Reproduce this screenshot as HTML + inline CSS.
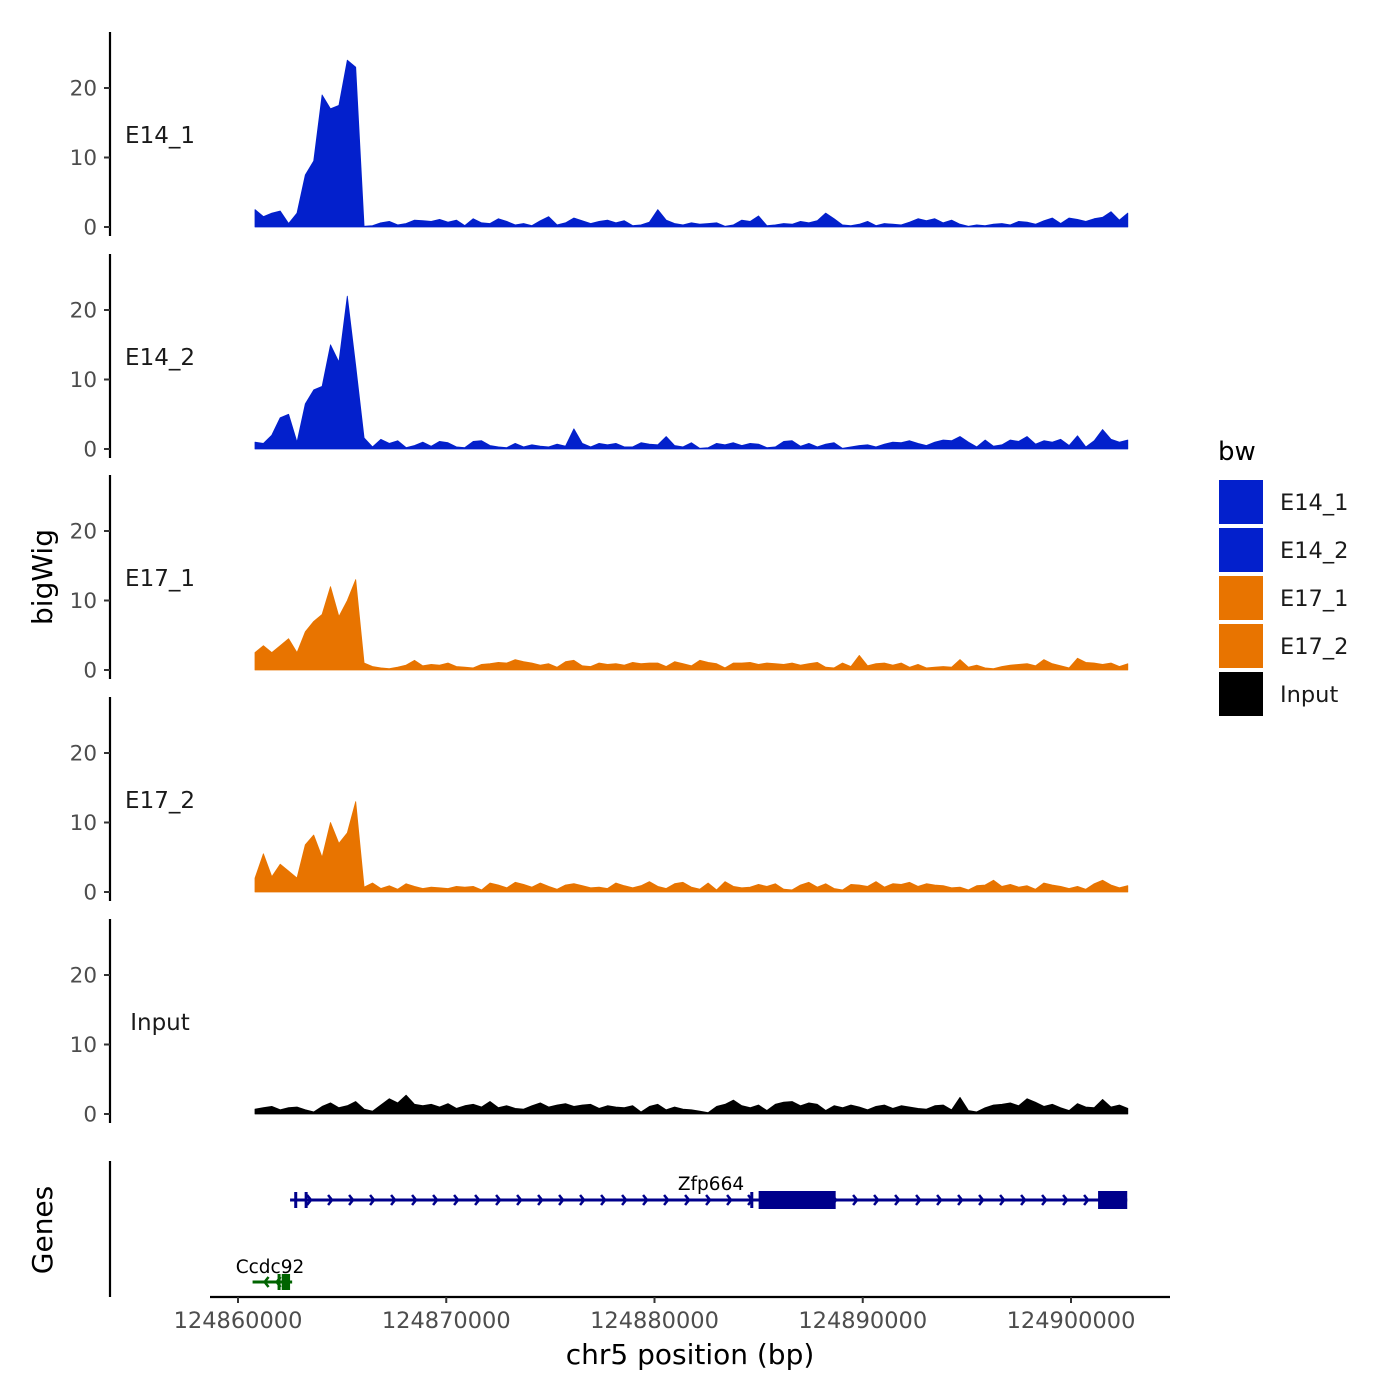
<!DOCTYPE html>
<html><head><meta charset="utf-8"><style>
html,body{margin:0;padding:0;background:#fff}
svg{display:block;font-family:"DejaVu Sans","Liberation Sans",sans-serif}
</style></head><body>
<svg id="chart" width="1400" height="1400" viewBox="0 0 1400 1400" xmlns="http://www.w3.org/2000/svg">
<rect width="1400" height="1400" fill="#fff"/>
<g id="tracks"></g>
<g id="genes"></g>
<g id="xaxis"></g>
<text transform="translate(52,577) rotate(-90)" text-anchor="middle" font-size="28">bigWig</text>
<text transform="translate(52,1230) rotate(-90)" text-anchor="middle" font-size="28">Genes</text>
<text x="690" y="1364" text-anchor="middle" font-size="28">chr5 position (bp)</text>
<g id="legend"></g>
</svg>
<script>
const trackNames = ["E14_1","E14_2","E17_1","E17_2","Input"];
const trackColors = ["#0320cc","#0320cc","#e87400","#e87400","#000000"];
const binStart = 124860816;
const binSize = 403;
const yTicks = [0,10,20];
const xTicks = [124860000,124870000,124880000,124890000,124900000];
const E14_1 = [2.5,1.5,2.0,2.3,0.5,2.0,7.5,9.5,19,17,17.5,24,23,
0.1,0.2,0.6,0.8,0.3,0.5,1.0,0.9,0.8,1.1,0.7,1.0,
0.2,1.2,0.6,0.5,1.2,0.8,0.3,0.5,0.2,0.9,1.5,0.3,
0.6,1.3,0.9,0.5,0.8,1.0,0.6,0.9,0.2,0.3,0.7,2.5,
1.0,0.5,0.3,0.6,0.4,0.5,0.6,0.1,0.3,1.0,0.8,1.6,
0.2,0.3,0.5,0.4,0.8,0.6,0.9,2.0,1.2,0.3,0.2,0.4,
0.8,0.2,0.5,0.4,0.3,0.7,1.2,0.9,1.2,0.6,1.0,0.4,
0.1,0.3,0.2,0.4,0.5,0.3,0.8,0.7,0.4,0.9,1.3,0.5,
1.3,1.1,0.8,1.2,1.4,2.2,1.0,2.0];
const E14_2 = [1.0,0.8,2.0,4.5,5.0,1.0,6.5,8.5,9.0,15.0,12.5,22.0,12.0,
1.6,0.3,1.4,0.8,1.2,0.2,0.5,1.0,0.4,1.1,0.9,0.3,
0.2,1.1,1.2,0.5,0.3,0.2,0.8,0.3,0.6,0.4,0.3,0.7,
0.4,2.9,0.8,0.3,0.8,0.6,0.8,0.3,0.3,0.9,0.7,0.6,
1.8,0.5,0.3,0.9,0.1,0.2,0.8,0.6,0.9,0.5,0.8,0.7,
0.2,0.3,1.1,1.2,0.4,0.8,0.3,0.7,0.9,0.1,0.3,0.5,
0.6,0.3,0.7,1.0,0.9,1.2,0.8,0.5,1.0,1.3,1.2,1.8,
1.0,0.3,1.3,0.4,0.6,1.3,1.1,1.8,0.7,1.2,1.0,1.4,
0.5,1.9,0.3,1.2,2.8,1.4,1.0,1.3];
const E17_1 = [2.5,3.5,2.5,3.5,4.5,2.5,5.5,7.0,8.0,12.0,7.7,10.0,13.0,
1.0,0.5,0.3,0.2,0.4,0.7,1.4,0.6,0.8,0.7,1.0,0.5,
0.4,0.3,0.8,0.9,1.1,1.0,1.5,1.2,1.0,0.7,0.9,0.4,
1.2,1.4,0.6,0.5,1.0,0.8,0.9,0.7,1.1,0.9,1.0,1.0,
0.5,1.2,0.9,0.6,1.4,1.1,0.9,0.3,1.0,1.0,1.1,0.8,
1.0,0.9,0.8,1.0,0.7,0.9,1.1,0.4,0.3,1.0,0.5,2.1,
0.6,0.9,1.0,0.7,1.0,0.4,0.8,0.3,0.4,0.5,0.4,1.5,
0.4,0.7,0.3,0.2,0.5,0.7,0.8,0.9,0.6,1.5,0.9,0.6,
0.3,1.7,1.1,1.0,0.8,1.0,0.5,0.9];
const E17_2 = [2.0,5.5,2.2,4.0,3.0,2.0,6.8,8.2,5.0,10.0,7.0,8.5,13.0,
0.7,1.3,0.5,0.9,0.4,1.2,0.8,0.5,0.7,0.6,0.5,0.8,
0.7,0.8,0.3,1.3,1.0,0.6,1.4,1.1,0.7,1.3,0.8,0.4,
1.0,1.2,0.9,0.6,0.7,0.5,1.3,0.9,0.6,0.9,1.5,0.8,
0.5,1.2,1.4,0.7,0.4,1.3,0.3,1.5,0.8,0.6,0.7,1.1,
0.8,1.2,0.4,0.3,1.0,1.4,0.7,1.2,0.5,0.3,1.1,1.0,
0.8,1.5,0.7,1.2,1.1,1.4,0.8,1.2,1.0,0.9,0.6,0.7,
0.3,0.9,1.0,1.7,0.8,1.1,0.7,0.9,0.4,1.3,1.0,0.8,
0.5,0.8,0.4,1.2,1.7,1.0,0.6,0.9];
const Input = [0.7,0.9,1.1,0.6,0.9,1.0,0.6,0.3,1.1,1.6,0.9,1.2,1.8,
0.7,0.4,1.3,2.2,1.6,2.7,1.4,1.2,1.4,1.0,1.5,0.8,
1.2,1.4,1.0,1.8,0.9,1.2,0.8,0.7,1.2,1.6,1.0,1.3,
1.5,1.1,1.3,1.4,0.8,1.2,1.0,0.9,1.2,0.3,1.1,1.4,
0.6,1.0,0.7,0.6,0.4,0.2,1.1,1.4,2.0,1.2,0.9,1.3,
0.5,1.4,1.7,1.8,1.2,1.6,1.4,0.5,1.2,0.9,1.3,1.0,
0.6,1.1,1.3,0.8,1.2,1.0,0.8,0.7,1.2,1.3,0.6,2.4,
0.5,0.3,0.9,1.3,1.4,1.6,1.2,2.2,1.7,1.1,1.4,0.9,
0.5,1.5,1.0,0.9,2.1,1.0,1.3,0.8];
const trackData = [E14_1,E14_2,E17_1,E17_2,Input];
const geneNames = ["Zfp664","Ccdc92"];
const geneStarts = [124862500,124860700];
const geneEnds = [124902700,124862600];
const geneStrand = ["+","-"];
const geneColors = ["#00008b","#006400"];
const zfpExonStarts = [124862700,124863200,124884600,124885000,124901300];
const zfpExonEnds = [124862800,124863300,124884700,124888700,124902700];
const ccdcExonStarts = [124861900,124862100];
const ccdcExonEnds = [124862000,124862500];

const NS="http://www.w3.org/2000/svg";
function mk(tag,attrs,parent){const e=document.createElementNS(NS,tag);for(const k in attrs)e.setAttribute(k,attrs[k]);parent.appendChild(e);return e;}
const X = bp => 238 + (bp-124860000)/10000*208.25;
const pxPerUnit = 6.95;
const zeros = [227,449,670,892,1114];

const tracks=document.getElementById('tracks');
trackData.forEach((vals,t)=>{
  const g=mk('g',{},tracks);
  
  
  const z=zeros[t];
  const Y=v=>z - v*pxPerUnit;
  const ax=mk('line',{x1:110,x2:110,y1:z-195,y2:z+9,stroke:'#000','stroke-width':2.2},g);
  
  
  yTicks.forEach(tv=>{
    const tk=mk('line',{x1:104,x2:110,y1:Y(tv),y2:Y(tv),stroke:'#333','stroke-width':2},g);
    
    
    const tl=mk('text',{x:97,y:Y(tv)+7.5,'text-anchor':'end','font-size':21.5,fill:'#4d4d4d'},g);
    tl.textContent=tv;
    
    
  });
  const lab=mk('text',{x:160,y:z-84,'text-anchor':'middle','font-size':23,fill:'#1a1a1a'},g);
  lab.textContent=trackNames[t];
  
  
  let d='M'+X(binStart).toFixed(1)+','+z;
  vals.forEach((v,i)=>{d+=' L'+X(binStart+i*binSize).toFixed(1)+','+Y(v).toFixed(1);});
  d+=' L'+X(binStart+(vals.length-1)*binSize).toFixed(1)+','+z+' Z';
  const a=mk('path',{d:d,fill:trackColors[t],stroke:trackColors[t],'stroke-width':0.8,'stroke-linejoin':'round'},g);
  
  
});

const gg=document.getElementById('genes');
const gax=mk('line',{x1:110,x2:110,y1:1161,y2:1297,stroke:'#000','stroke-width':2.2},gg);


const geneY=[1200,1282];
const exS=[zfpExonStarts,ccdcExonStarts], exE=[zfpExonEnds,ccdcExonEnds];
geneNames.forEach((n,i)=>{
  const g=mk('g',{},gg);
  
  
  const y=geneY[i], c=geneColors[i], x1=X(geneStarts[i]), x2=X(geneEnds[i]);
  mk('line',{x1:x1,x2:x2,y1:y,y2:y,stroke:c,'stroke-width':3},g);
  const step=i===0?21:12;
  for(let x=x1+step;x<x2-4;x+=step){
    const dir=geneStrand[i]==='+'?1:-1;
    mk('polyline',{points:`${x-4*dir},${y-5} ${x},${y} ${x-4*dir},${y+5}`,fill:'none',stroke:c,'stroke-width':2.5},g);
  }
  exS[i].forEach((s,k)=>{
    const w=Math.max(3,X(exE[i][k])-X(s)), thick=(X(exE[i][k])-X(s))>20;
    const r=mk('rect',{x:X(s),y:thick?y-9:y-8,width:w,height:thick?18:16,fill:c},g);
    
    
  });
  const lx=i===0?711:270, ly=i===0?1190:1273;
  const t=mk('text',{x:lx,y:ly,'text-anchor':'middle','font-size':18.5,fill:'#000'},g);
  t.textContent=n;
  
  
});

const xa=document.getElementById('xaxis');
mk('line',{x1:210,x2:1170,y1:1297,y2:1297,stroke:'#000','stroke-width':2.2},xa);
xTicks.forEach(v=>{
  const tk=mk('line',{x1:X(v),x2:X(v),y1:1297,y2:1303,stroke:'#333','stroke-width':2},xa);
  
  
  const tl=mk('text',{x:X(v),y:1328,'text-anchor':'middle','font-size':22.5,fill:'#4d4d4d'},xa);
  tl.textContent=v;
  
  
});

const lg=document.getElementById('legend');
const lt=mk('text',{x:1218,y:460,'font-size':26},lg);
lt.textContent='bw';


trackNames.forEach((n,i)=>{
  const g=mk('g',{},lg);
  
  
  mk('rect',{x:1219,y:480+i*48,width:44,height:44,fill:trackColors[i]},g);
  const t=mk('text',{x:1280,y:510+i*48,'font-size':22.5,fill:'#1a1a1a'},g);
  t.textContent=n;
});
</script>
</body></html>
